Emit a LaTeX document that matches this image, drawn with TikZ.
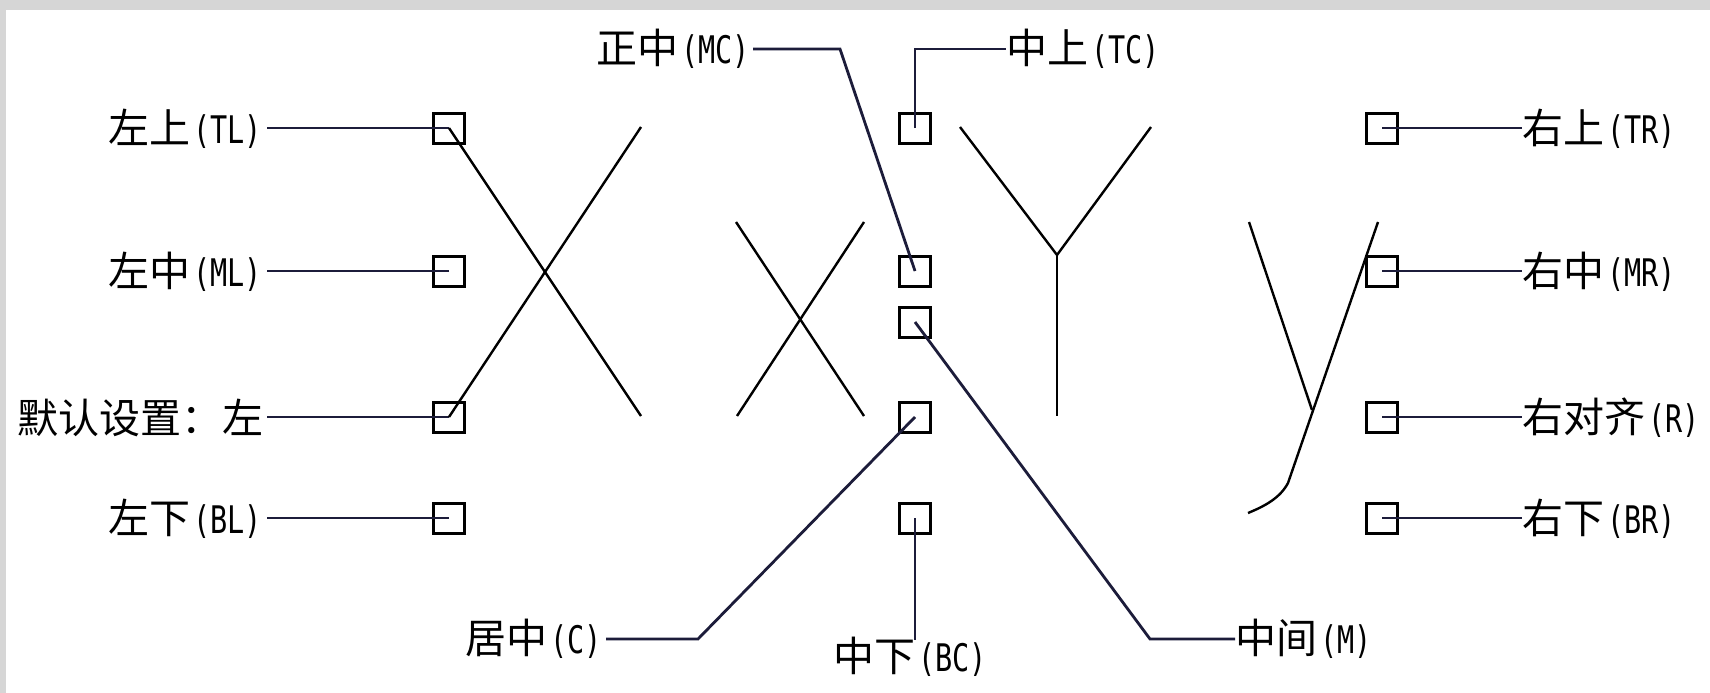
\documentclass[tikz,border=0pt]{standalone}
\usepackage{fontspec}
\newfontfamily\cjk{Noto Sans CJK SC}
\newfontfamily\lat[FakeStretch=0.75]{DejaVu Sans Mono}
\definecolor{navy}{RGB}{28,28,58}
\definecolor{framegray}{RGB}{214,214,214}
\newcommand\zh[1]{{\fontsize{41pt}{42pt}\selectfont\cjk #1}}
\newcommand\la[1]{{\fontsize{38pt}{42pt}\selectfont\lat\kern3pt #1}}

\begin{document}
\begin{tikzpicture}[x=1pt,y=-1pt,
  anchorbox/.style={draw=black, line width=3pt, minimum width=31pt, minimum height=30pt, inner sep=0pt},
  lab/.style={inner sep=0pt, text=black},
  conn/.style={draw=navy, line width=2.8pt},
  glyph/.style={draw=black, line width=2.4pt}]

\useasboundingbox (0,0) rectangle (1710,693);
\fill[framegray] (0,0) rectangle (1710,693);
\fill[white] (6,10) rectangle (1710,693);

% anchor squares
\node[anchorbox] (tl) at (449,128) {};
\node[anchorbox] (ml) at (449,271) {};
\node[anchorbox] (dl) at (449,417) {};
\node[anchorbox] (bl) at (449,518) {};
\node[anchorbox] (tc) at (915,128) {};
\node[anchorbox] (mc) at (915,271) {};
\node[anchorbox] (m)  at (915,322) {};
\node[anchorbox] (c)  at (915,417) {};
\node[anchorbox] (bc) at (915,518) {};
\node[anchorbox] (tr) at (1382,128) {};
\node[anchorbox] (mr) at (1382,271) {};
\node[anchorbox] (r)  at (1382,417) {};
\node[anchorbox] (br) at (1382,518) {};

% labels
\node[lab, anchor=east] (ltl) at (262,129) {\zh{左上}\la{(TL)}};
\node[lab, anchor=east] (lml) at (262,272) {\zh{左中}\la{(ML)}};
\node[lab, anchor=east] (ldl) at (264,418) {\zh{默认设置：左}};
\node[lab, anchor=east] (lbl) at (262,519) {\zh{左下}\la{(BL)}};
\node[lab, anchor=west] (ltr) at (1522,129) {\zh{右上}\la{(TR)}};
\node[lab, anchor=west] (lmr) at (1522,272) {\zh{右中}\la{(MR)}};
\node[lab, anchor=west] (lr)  at (1522,418) {\zh{右对齐}\la{(R)}};
\node[lab, anchor=west] (lbr) at (1522,519) {\zh{右下}\la{(BR)}};
\node[lab, anchor=east] (lmc) at (750,49) {\zh{正中}\la{(MC)}};
\node[lab, anchor=west] (ltc) at (1006,49) {\zh{中上}\la{(TC)}};
\node[lab, anchor=east] (lc)  at (602,639) {\zh{居中}\la{(C)}};
\node[lab] (lbc) at (910,657) {\zh{中下}\la{(BC)}};
\node[lab, anchor=west] (lm)  at (1235,639) {\zh{中间}\la{(M)}};

% connectors
\draw[conn, shorten >=5pt] (tl.center) -- (tl.center -| ltl.east);
\draw[conn, shorten >=5pt] (ml.center) -- (ml.center -| lml.east);
\draw[conn, shorten >=3pt] (dl.center) -- (dl.center -| ldl.east);
\draw[conn, shorten >=5pt] (bl.center) -- (bl.center -| lbl.east);
\draw[conn] (tr.center) -- (tr.center -| ltr.west);
\draw[conn] (mr.center) -- (mr.center -| lmr.west);
\draw[conn] (r.center) -- (r.center -| lr.west);
\draw[conn] (br.center) -- (br.center -| lbr.west);

\coordinate (mcbend) at (840,49);
\draw[conn] (mc.center) -- (mcbend) -- ([xshift=3pt]lmc.east);
\coordinate (tcbend) at (915,49);
\draw[conn] (tc.center) -- (tcbend) -- (ltc.west);
\coordinate (cbend) at (698,639);
\draw[conn] (c.center) -- (cbend) -- ([xshift=4pt]lc.east);
\coordinate (mbend) at (1150,639);
\draw[conn] (m.center) -- (mbend) -- (lm.west);
\coordinate (bcend) at (915,640);
\draw[conn] (bc.center) -- (bcend);

% sample letters
\draw[glyph] (tl.center) -- (641,416);
\draw[glyph] (dl.center) -- (641,127);
\draw[glyph] (736,222) -- (864,416);
\draw[glyph] (864,222) -- (737,416);
\draw[glyph] (960,127) -- (1057,255) -- (1151,127);
\draw[glyph] (1057,255) -- (1057,416);
\draw[glyph] (1249,222) -- (1312,410);
\draw[glyph] (1378,222) -- (1288,483) .. controls (1280,498) and (1265,506) .. (1248,513);
\end{tikzpicture}
\end{document}
